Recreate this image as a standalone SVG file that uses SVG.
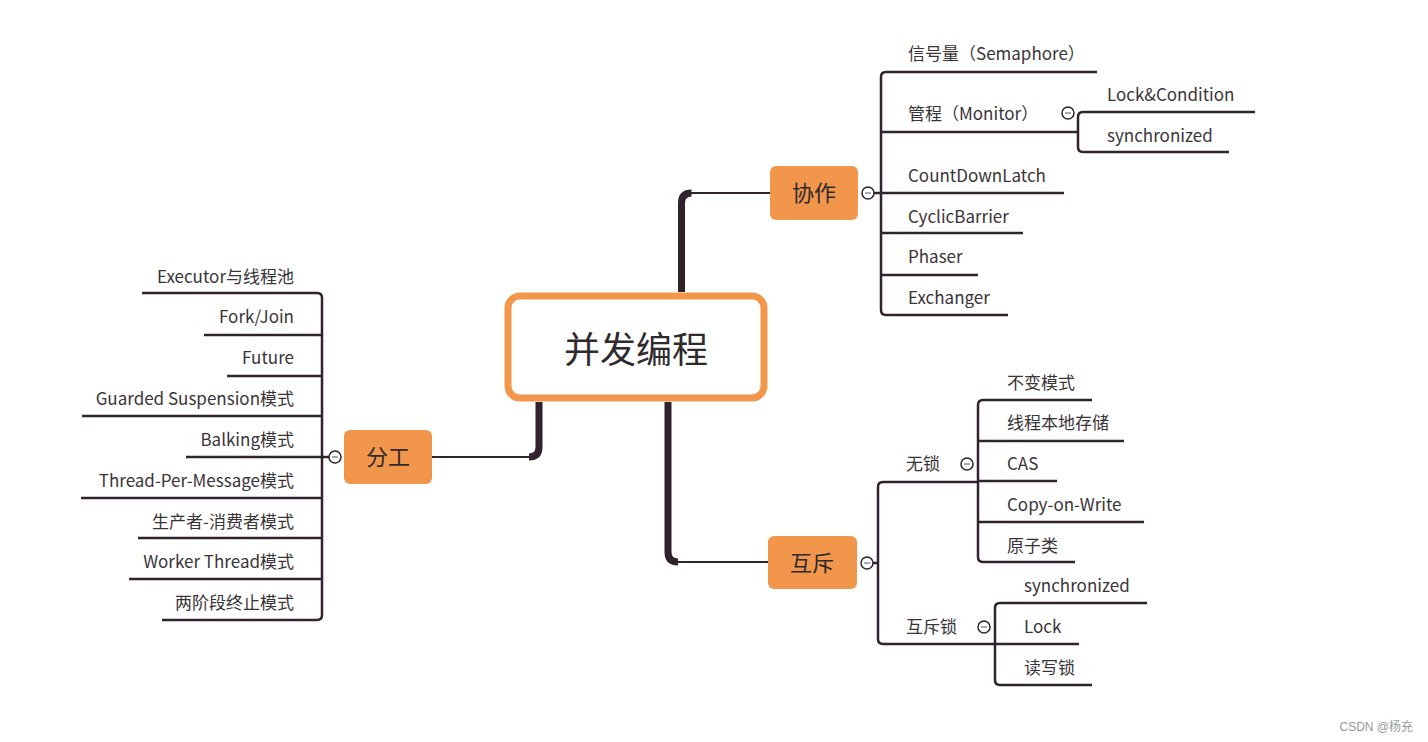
<svg xmlns="http://www.w3.org/2000/svg" width="1428" height="742" viewBox="0 0 1428 742">
<style>
.t{font-family:"Noto Sans CJK SC","Noto Sans",sans-serif;font-size:17px;fill:#3a3338}
.r{text-anchor:end}
.n{font-family:"Noto Sans CJK SC",sans-serif;font-size:22px;fill:#2e2a2e;text-anchor:middle}
.br{fill:none;stroke:#30232d;stroke-width:2.5;stroke-linejoin:round}
.thick{fill:none;stroke:#30232d;stroke-width:7}
.thin{fill:none;stroke:#30232d;stroke-width:2}
.node{fill:#F2964C}
.c{fill:#fff;stroke:#30232d;stroke-width:1.5}
.m{stroke:#7d8fb0;stroke-width:1.5}
</style>
<rect width="1428" height="742" fill="#fff"/>
<g id="connectors">
<path class="thick" d="M681.5,292 V203 Q681.5,193 691.5,193"/>
<path class="thin" d="M690,193 H770"/>
<path class="thick" d="M539,402 V447 Q539,457 529,457"/>
<path class="thin" d="M530,457 H432"/>
<path class="thick" d="M668,402 V552 Q668,562 678,562"/>
<path class="thin" d="M677,562 H768"/>
<!-- 协作 branches -->
<path class="br" d="M1097,72 H886 Q881,72 881,77 V310 Q881,315 886,315 H1008"/>
<path class="br" d="M881,132 H1078"/>
<path class="br" d="M868,193 H1064"/>
<path class="br" d="M881,233 H1023"/>
<path class="br" d="M881,275 H978"/>
<path class="br" d="M1255,112 H1083 Q1078,112 1078,117 V147 Q1078,152 1083,152 H1229"/>
<!-- 分工 branches -->
<path class="br" d="M142,293 H317 Q322,293 322,298 V615 Q322,620 317,620 H162"/>
<path class="br" d="M204,335 H322"/>
<path class="br" d="M227,376 H322"/>
<path class="br" d="M82,416 H322"/>
<path class="br" d="M186,457 H335"/>
<path class="br" d="M81,498 H322"/>
<path class="br" d="M138,538 H322"/>
<path class="br" d="M129,579 H322"/>
<!-- 互斥 branches -->
<path class="br" d="M978,482 H883 Q878,482 878,487 V639 Q878,644 883,644 H995"/>
<path class="br" d="M867,563 H878"/>
<path class="br" d="M1092,400 H983 Q978,400 978,405 V557 Q978,562 983,562 H1075"/>
<path class="br" d="M978,441 H1124"/>
<path class="br" d="M978,481 H1057"/>
<path class="br" d="M978,522 H1144"/>
<path class="br" d="M1147,603 H1000 Q995,603 995,608 V680 Q995,685 1000,685 H1092"/>
<path class="br" d="M995,644 H1079"/>
</g>
<g id="center">
<rect x="508" y="296" width="256" height="102" rx="12" fill="#fff" stroke="#F2964C" stroke-width="7"/>
<text x="636" y="363" font-family="Noto Sans CJK SC,sans-serif" font-size="36" fill="#2e2a2e" text-anchor="middle">并发编程</text>
</g>
<g id="xiezuo">
<rect class="node" x="770" y="166" width="88" height="54" rx="6"/>
<text class="n" x="814" y="201">协作</text>
<circle class="c" cx="868" cy="193" r="6"/><line class="m" x1="865" y1="193" x2="871" y2="193"/>
</g>
<g id="fengong">
<rect class="node" x="344" y="430" width="88" height="54" rx="6"/>
<text class="n" x="388" y="465">分工</text>
<circle class="c" cx="335" cy="457" r="6"/><line class="m" x1="332" y1="457" x2="338" y2="457"/>
</g>
<g id="huchi">
<rect class="node" x="768" y="536" width="89" height="53" rx="6"/>
<text class="n" x="812" y="571">互斥</text>
<circle class="c" cx="867" cy="563" r="6"/><line class="m" x1="864" y1="563" x2="870" y2="563"/>
</g>
<g id="xiezuo-items">
<text class="t" x="908" y="60">信号量（Semaphore）</text>
<text class="t" x="908" y="120">管程（Monitor）</text>
<circle class="c" cx="1068" cy="113" r="6"/><line class="m" x1="1065" y1="113" x2="1071" y2="113"/>
<text class="t" x="1107" y="101">Lock&amp;Condition</text>
<text class="t" x="1107" y="142">synchronized</text>
<text class="t" x="908" y="182">CountDownLatch</text>
<text class="t" x="908" y="223">CyclicBarrier</text>
<text class="t" x="908" y="263">Phaser</text>
<text class="t" x="908" y="304">Exchanger</text>
</g>
<g id="fengong-items">
<text class="t r" x="294" y="283">Executor与线程池</text>
<text class="t r" x="294" y="323">Fork/Join</text>
<text class="t r" x="294" y="364">Future</text>
<text class="t r" x="294" y="405">Guarded Suspension模式</text>
<text class="t r" x="294" y="446">Balking模式</text>
<text class="t r" x="294" y="487">Thread-Per-Message模式</text>
<text class="t r" x="294" y="528">生产者-消费者模式</text>
<text class="t r" x="294" y="568">Worker Thread模式</text>
<text class="t r" x="294" y="609">两阶段终止模式</text>
</g>
<g id="huchi-items">
<text class="t" x="906" y="470">无锁</text>
<circle class="c" cx="967" cy="464" r="6"/><line class="m" x1="964" y1="464" x2="970" y2="464"/>
<text class="t" x="1007" y="389">不变模式</text>
<text class="t" x="1007" y="429">线程本地存储</text>
<text class="t" x="1007" y="470">CAS</text>
<text class="t" x="1007" y="511">Copy-on-Write</text>
<text class="t" x="1007" y="552">原子类</text>
<text class="t" x="906" y="633">互斥锁</text>
<circle class="c" cx="984" cy="627" r="6"/><line class="m" x1="981" y1="627" x2="987" y2="627"/>
<text class="t" x="1024" y="592">synchronized</text>
<text class="t" x="1024" y="633">Lock</text>
<text class="t" x="1024" y="674">读写锁</text>
</g>
<text x="1413" y="731" font-family="Liberation Sans,Noto Sans CJK SC,sans-serif" font-size="12" fill="#999" text-anchor="end">CSDN @杨充</text>
</svg>
